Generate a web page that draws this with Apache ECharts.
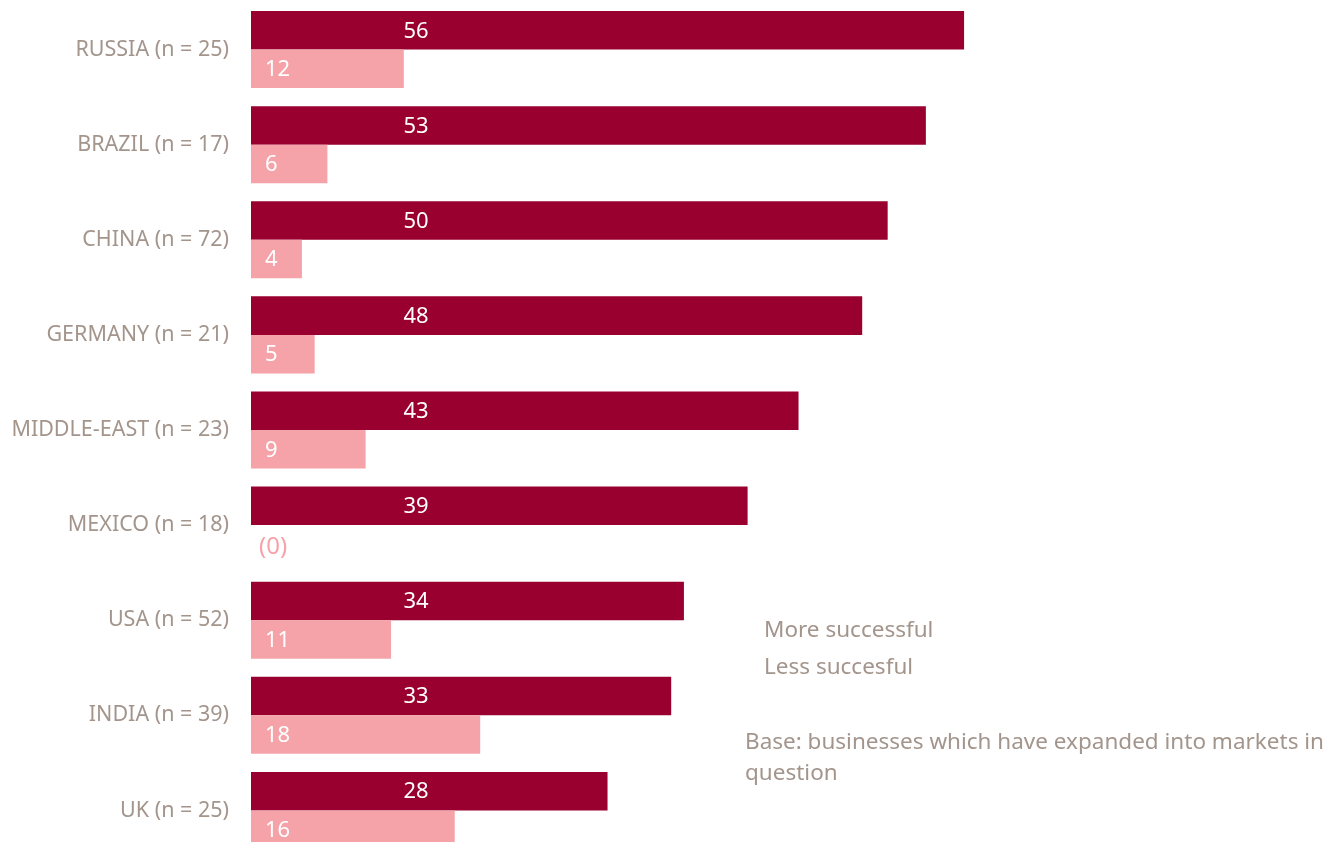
<!DOCTYPE html>
<html>
<head>
<meta charset="utf-8">
<script src="https://cdn.jsdelivr.net/npm/echarts@6/dist/echarts.min.js"></script>
<style>
  html, body { margin: 0; padding: 0; background: #fff; overflow: hidden; }
  #chart { width: 1339px; height: 860px; }
</style>
</head>
<body>
<div id="chart"></div>
<script>
const markets = ['RUSSIA (n = 25)', 'BRAZIL (n = 17)', 'CHINA (n = 72)', 'GERMANY (n = 21)',
  'MIDDLE-EAST (n = 23)', 'MEXICO (n = 18)', 'USA (n = 52)', 'INDIA (n = 39)', 'UK (n = 25)'];
const moreSuccessful = [56, 53, 50, 48, 43, 39, 34, 33, 28];
const lessSuccessful = [12, 6, 4, 5, 9, 0, 11, 18, 16];

const dark = '#990030';
const light = '#f5a3a8';
const grey = '#a3958c';
const font = 'Noto Sans';

const chart = echarts.init(document.getElementById('chart'));

// zero values get shown in brackets in the pink colour
const lessData = lessSuccessful.map(v => v === 0
  ? {value: v, label: {formatter: '(0)', color: light, distance: 8, fontSize: 24, offset: [0, 3]}}
  : v);

chart.setOption({
  animation: false,
  textStyle: {fontFamily: font},
  legend: {
    orient: 'vertical',
    left: 754,
    top: 614,
    itemWidth: 0,
    itemHeight: 0,
    itemGap: 14,
    textStyle: {color: grey, fontSize: 22.5, fontFamily: font},
    data: ['More successful', 'Less succesful']
  },
  graphic: [{
    type: 'text',
    left: 745,
    top: 727,
    style: {
      text: 'Base: businesses which have expanded into markets in\nquestion',
      fill: grey,
      fontSize: 22.5,
      lineHeight: 31,
      fontFamily: font
    }
  }],
  grid: {left: 251, top: 2, width: 764, height: 856, containLabel: false},
  xAxis: {
    type: 'value',
    min: 0,
    max: 60,
    show: false
  },
  yAxis: {
    type: 'category',
    inverse: true,
    data: markets,
    axisLine: {show: false},
    axisTick: {show: false},
    axisLabel: {color: grey, fontSize: 21.5, margin: 22, fontFamily: font}
  },
  series: [
    {
      name: 'More successful',
      type: 'bar',
      data: moreSuccessful,
      barGap: '0%',
      barCategoryGap: '19%',
      itemStyle: {color: dark},
      label: {
        show: true,
        position: [165, '50%'],
        align: 'center',
        verticalAlign: 'middle',
        offset: [0, 1],
        color: '#fff',
        fontSize: 22,
        fontFamily: font
      }
    },
    {
      name: 'Less succesful',
      type: 'bar',
      data: lessData,
      itemStyle: {color: light},
      label: {
        show: true,
        position: 'insideLeft',
        distance: 14,
        offset: [0, 1],
        color: '#fff',
        fontSize: 22,
        fontFamily: font
      }
    }
  ]
});
</script>
</body>
</html>
